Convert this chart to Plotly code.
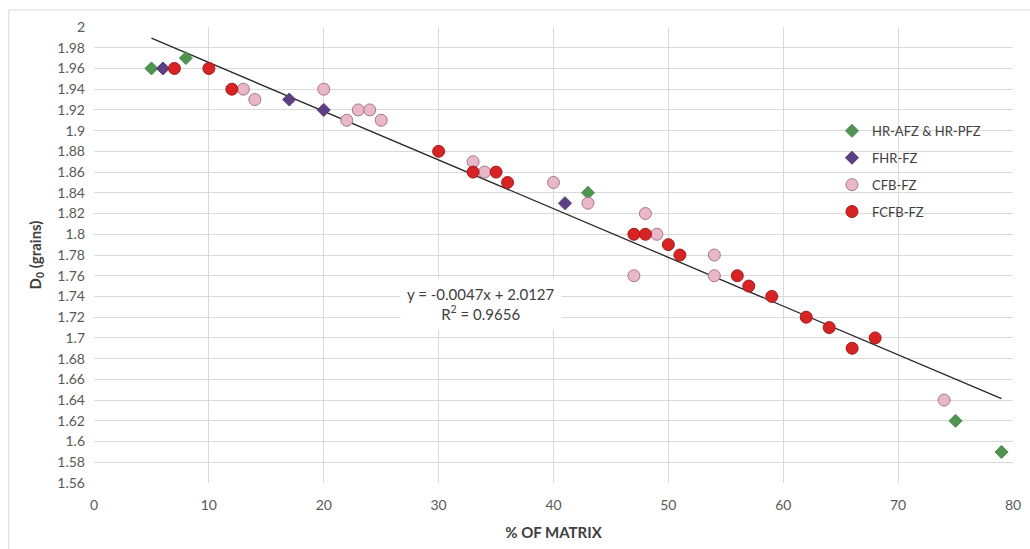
import plotly.graph_objects as go

# Share of matrix (%) and D0 (grains) per fabric type
hr_x = [5, 8, 43, 75, 79]
hr_y = [1.96, 1.97, 1.84, 1.62, 1.59]

fhr_x = [6, 17, 20, 41]
fhr_y = [1.96, 1.93, 1.92, 1.83]

cfb_x = [13, 14, 20, 22, 23, 24, 25, 33, 34, 40, 43, 47, 48, 49, 54, 54, 74]
cfb_y = [1.94, 1.93, 1.94, 1.91, 1.92, 1.92, 1.91, 1.87, 1.86, 1.85, 1.83,
         1.76, 1.82, 1.80, 1.78, 1.76, 1.64]

fcfb_x = [7, 10, 12, 30, 33, 35, 36, 47, 48, 50, 51, 56, 57, 59, 62, 64, 66, 68]
fcfb_y = [1.96, 1.96, 1.94, 1.88, 1.86, 1.86, 1.85, 1.80, 1.80, 1.79, 1.78,
          1.76, 1.75, 1.74, 1.72, 1.71, 1.69, 1.70]

# Linear trend reported on the chart
slope = -0.0047
intercept = 2.0127
r_squared = 0.9656
trend_x = [5, 79]
trend_y = [slope * x + intercept for x in trend_x]

x_ticks = [0, 10, 20, 30, 40, 50, 60, 70, 80]
y_ticks = [round(1.56 + 0.02 * i, 2) for i in range(23)]

FONT = "Lato"
GRID = "#d9d9d9"
TICK = "#595959"
TEXT = "#404040"

fig = go.Figure()

fig.add_trace(go.Scatter(
    x=trend_x, y=trend_y, mode="lines", showlegend=False, hoverinfo="skip",
    line=dict(color="#262626", width=1.3),
))

fig.add_trace(go.Scatter(
    x=hr_x, y=hr_y, mode="markers", name="HR-AFZ &amp; HR-PFZ", legendgroup="a",
    marker=dict(symbol="diamond", size=10, color="#519452",
                line=dict(color="#4a8a4b", width=1)),
))
fig.add_trace(go.Scatter(
    x=fhr_x, y=fhr_y, mode="markers", name="FHR-FZ", legendgroup="b",
    marker=dict(symbol="diamond", size=10, color="#5d3f84",
                line=dict(color="#533977", width=1)),
))
fig.add_trace(go.Scatter(
    x=cfb_x, y=cfb_y, mode="markers", name="CFB-FZ", legendgroup="c",
    marker=dict(symbol="circle", size=12, color="#e8b7c8",
                line=dict(color="#a6768a", width=1)),
))
fig.add_trace(go.Scatter(
    x=fcfb_x, y=fcfb_y, mode="markers", name="FCFB-FZ", legendgroup="d",
    marker=dict(symbol="circle", size=12, color="#d72323",
                line=dict(color="#a51b1b", width=1)),
))

# Outer chart frame
fig.add_shape(type="rect", xref="paper", yref="paper",
              x0=-0.0928, x1=1.2, y0=-0.4, y1=1.0373,
              line=dict(color="#d9d9d9", width=1), layer="below")

fig.add_annotation(
    x=33.7, y=1.7325, xref="x", yref="y",
    text=f"y = {slope}x + {intercept}<br>R<sup>2</sup> = {r_squared}",
    showarrow=False, align="center", bgcolor="white", borderpad=6,
    font=dict(family=FONT, size=15, color=TEXT),
)

fig.update_layout(
    width=1030, height=549,
    margin=dict(l=94, r=9, t=27, b=66),
    paper_bgcolor="white", plot_bgcolor="white",
    font=dict(family=FONT, color=TEXT),
    legend=dict(
        x=0.803, y=0.805, xanchor="left", yanchor="top",
        bgcolor="rgba(0,0,0,0)", font=dict(family=FONT, size=13, color=TEXT),
        traceorder="grouped", tracegroupgap=7, itemwidth=30,
    ),
    xaxis=dict(
        range=[0, 80], tickvals=x_ticks, showgrid=True, gridcolor=GRID,
        gridwidth=1, zeroline=False, showline=False,
        tickfont=dict(family=FONT, size=14, color=TICK), ticks="",
        ticklabelstandoff=12,
        title=dict(text="<b>% OF MATRIX</b>", standoff=15,
                   font=dict(family=FONT, size=15, color=TEXT)),
    ),
    yaxis=dict(
        range=[1.56, 2.0], tickvals=y_ticks,
        ticktext=[f"{v:g}" for v in y_ticks],
        showgrid=True, gridcolor=GRID, gridwidth=1, zeroline=False,
        showline=False, ticks="", ticklabelstandoff=8,
        tickfont=dict(family=FONT, size=14, color=TICK),
        title=dict(text="<b>D<sub>0</sub> (grains)</b>", standoff=12,
                   font=dict(family=FONT, size=15, color=TEXT)),
    ),
)

fig.write_html("out.html")
